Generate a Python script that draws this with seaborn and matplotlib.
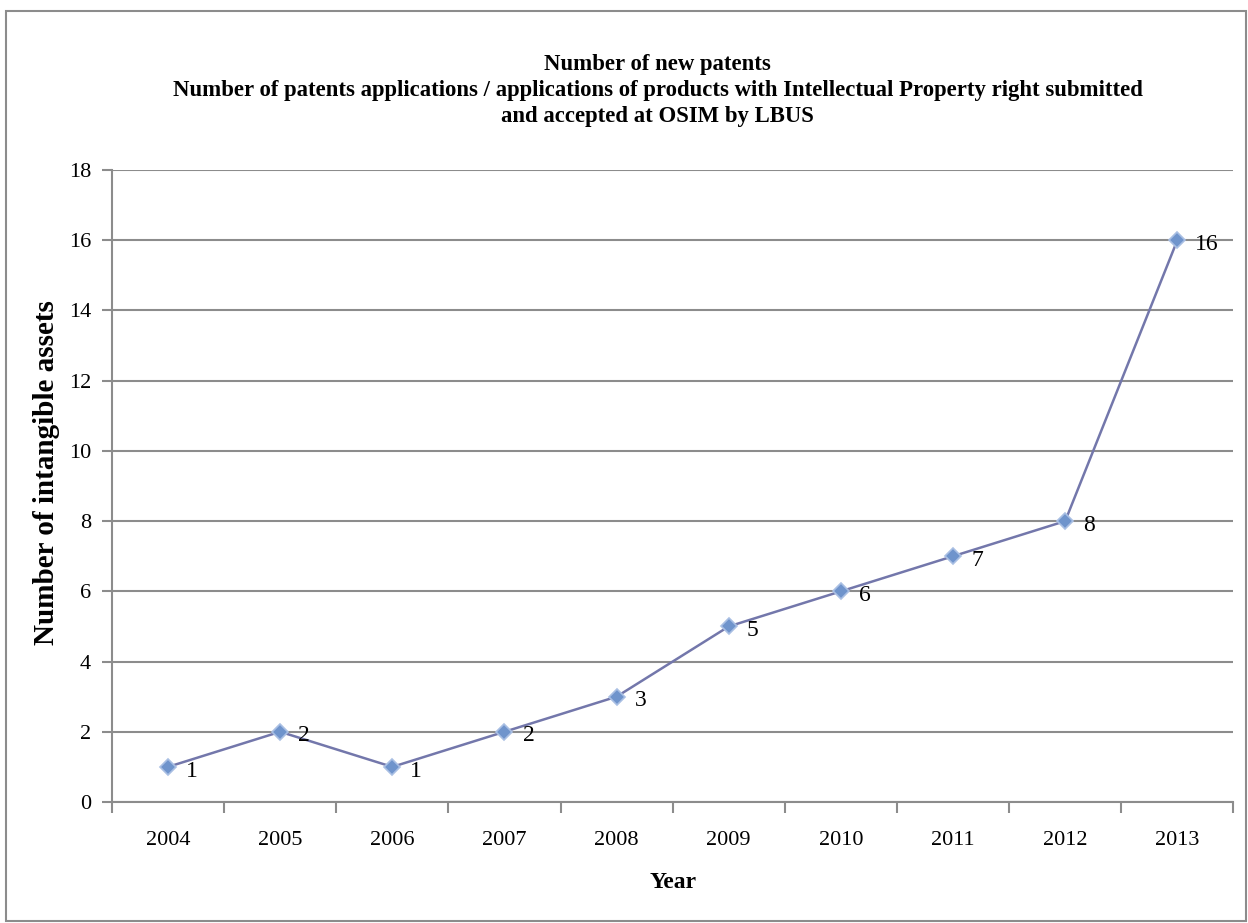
import numpy as np
import pandas as pd
import seaborn as sns
from matplotlib import pyplot as plt
from matplotlib.patches import Rectangle

# данные
years = ['2004', '2005', '2006', '2007', '2008', '2009', '2010', '2011', '2012', '2013']
patents = [1, 2, 1, 2, 3, 5, 6, 7, 8, 16]

df = pd.DataFrame({'Year': years, 'Count': patents})
df['pos'] = np.arange(len(years))

sns.set_style('white', {'xtick.bottom': True, 'ytick.left': True,
                        'text.color': 'black', 'xtick.color': 'black', 'ytick.color': 'black',
                        'axes.labelcolor': 'black'})
plt.rcParams['font.family'] = ['Liberation Serif', 'DejaVu Serif']

fig = plt.figure(figsize=(12.48, 9.23), dpi=100)
ax = fig.add_axes([0.0897, 0.1311, 0.8986, 0.6847])

sns.lineplot(data=df, x='pos', y='Count', ax=ax, color='#7377ab', linewidth=1.8,
             marker='D', markersize=8, markerfacecolor='#6f94cc',
             markeredgecolor='#a9bfe3', markeredgewidth=1.2)

# подписи значений справа от точек
for p, v in zip(df['pos'], df['Count']):
    ax.annotate(str(v), (p, v), xytext=(13, -3), textcoords='offset points',
                ha='left', va='center', fontsize=17, color='black')

ax.set_xlim(-0.5, 9.5)
ax.set_ylim(0, 18)
ax.set_yticks(range(0, 19, 2))
ax.set_xticks(df['pos'])
ax.set_xticklabels(years)
ax.set_xticks(np.arange(-0.5, 10, 1), minor=True)
ax.tick_params(axis='x', which='major', length=0, pad=21, labelsize=16, labelcolor='black')
ax.tick_params(axis='x', which='minor', bottom=True, length=8, width=1.5, color='#8c8c8c',
               direction='out')
ax.tick_params(axis='y', left=True, length=7, width=1.5, color='#8c8c8c', direction='out',
               pad=8, labelsize=16, labelcolor='black')
ax.grid(axis='y', color='#8c8c8c', linewidth=1.5)
ax.set_axisbelow(True)

for s in ['top', 'right']:
    ax.spines[s].set_visible(False)
for s in ['left', 'bottom']:
    ax.spines[s].set_color('#8c8c8c')
    ax.spines[s].set_linewidth(1.5)

ax.set_xlabel('Year', fontsize=17, fontweight='bold', labelpad=16, color='black')
ax.set_ylabel('')
fig.text(47 / 1248, 0.4875, 'Number of intangible assets', rotation=90, ha='center', va='center',
         fontsize=21, fontweight='bold', color='black')

fig.text(0.527, 0.902,
         'Number of new patents\n'
         'Number of patents applications / applications of products with Intellectual Property right submitted\n'
         'and accepted at OSIM by LBUS',
         ha='center', va='center', fontsize=16.4, fontweight='bold', linespacing=1.3, color='black')

# рамка вокруг всей диаграммы
fig.patches.append(Rectangle((0.005, 0.002), 0.993, 0.986, transform=fig.transFigure,
                             fill=False, edgecolor='#8c8c8c', linewidth=1.5))

fig.savefig('out.png', dpi=100)
